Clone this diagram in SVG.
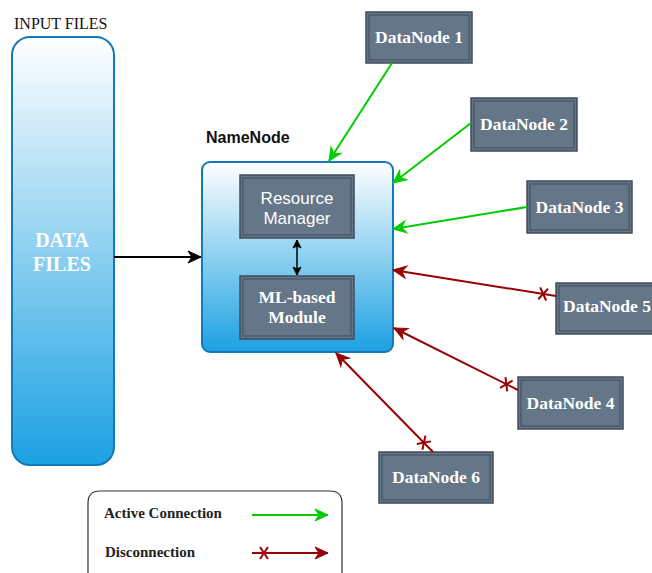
<svg xmlns="http://www.w3.org/2000/svg" width="652" height="573" viewBox="0 0 652 573">
<defs>
<linearGradient id="blueGrad" x1="0" y1="0" x2="0" y2="1">
<stop offset="0" stop-color="#ffffff"/>
<stop offset="1" stop-color="#1ba1e2"/>
</linearGradient>
<marker id="arrowGreen" markerUnits="userSpaceOnUse" markerWidth="20" markerHeight="20" refX="0" refY="0" orient="auto" overflow="visible">
<path d="M-13,-6 L0,0 L-13,6 L-9,0 z" fill="#00cc00" stroke="#00cc00" stroke-width="1"/>
</marker>
<marker id="arrowRed" markerUnits="userSpaceOnUse" markerWidth="20" markerHeight="20" refX="0" refY="0" orient="auto" overflow="visible">
<path d="M-13,-6 L0,0 L-13,6 L-9,0 z" fill="#990000" stroke="#990000" stroke-width="1"/>
</marker>
<marker id="arrowBlack" markerUnits="userSpaceOnUse" markerWidth="20" markerHeight="20" refX="0" refY="0" orient="auto" overflow="visible">
<path d="M-13,-6 L0,0 L-13,6 L-9,0 z" fill="#000000" stroke="#000000" stroke-width="1"/>
</marker>
<marker id="arrowSmall" markerUnits="userSpaceOnUse" markerWidth="20" markerHeight="20" refX="0" refY="0" orient="auto-start-reverse" overflow="visible">
<path d="M-8,-4 L0,0 L-8,4 L-6,0 z" fill="#000000" stroke="#000000" stroke-width="1"/>
</marker>
<marker id="cross" markerUnits="userSpaceOnUse" markerWidth="20" markerHeight="20" refX="0" refY="0" orient="auto" overflow="visible">
<path d="M9,-6 L17,6 M9,6 L17,-6" stroke="#990000" stroke-width="2" fill="none"/>
</marker>
</defs>
<style>
.blue{fill:url(#blueGrad);stroke:#1479b8;stroke-width:2}
.dn{fill:#647687;stroke:#3f4d5d;stroke-width:1.5}
.dnin{fill:none;stroke:#3f4d5d;stroke-width:1}
.dnt{font-family:"Liberation Serif","Times New Roman",serif;font-weight:bold;font-size:17.5px;fill:#ffffff;text-anchor:middle}
.dnl{text-anchor:start}
.sans{font-family:"Liberation Sans",Arial,sans-serif}
.serif{font-family:"Liberation Serif","Times New Roman",serif}
.green{stroke:#00cc00;stroke-width:2;fill:none;marker-end:url(#arrowGreen)}
.red{stroke:#990000;stroke-width:2;fill:none;marker-end:url(#arrowRed);marker-start:url(#cross)}
</style>

<g id="input-files">
<text x="14" y="29" class="serif" font-size="16" fill="#111111">INPUT FILES</text>
<rect x="12" y="37" width="102" height="428" rx="18" ry="18" class="blue"/>
<text x="62" y="247" class="serif" font-size="20" font-weight="bold" fill="#ffffff" text-anchor="middle">DATA</text>
<text x="62" y="271" class="serif" font-size="20" font-weight="bold" fill="#ffffff" text-anchor="middle">FILES</text>
</g>

<g id="namenode">
<text x="206" y="143" class="sans" font-size="16" font-weight="bold" fill="#111111">NameNode</text>
<rect x="202" y="162" width="191" height="190" rx="8" ry="8" class="blue"/>
</g>

<g id="resource-manager">
<rect x="240" y="175" width="114" height="63" class="dn"/>
<rect x="243" y="178" width="108" height="57" class="dnin"/>
<text x="297" y="204" class="sans" font-size="17" fill="#ffffff" text-anchor="middle">Resource</text>
<text x="297" y="224" class="sans" font-size="17" fill="#ffffff" text-anchor="middle">Manager</text>
</g>

<g id="ml-module">
<rect x="240" y="276" width="114" height="63" class="dn"/>
<rect x="243" y="279" width="108" height="57" class="dnin"/>
<text x="297" y="303" class="dnt">ML-based</text>
<text x="297" y="323" class="dnt">Module</text>
</g>

<g id="datanode1">
<rect x="366" y="12" width="106" height="51" class="dn"/>
<rect x="369" y="15" width="100" height="45" class="dnin"/>
<text x="419" y="43" class="dnt">DataNode 1</text>
</g>
<g id="datanode2">
<rect x="471" y="98" width="106" height="53" class="dn"/>
<rect x="474" y="101" width="100" height="47" class="dnin"/>
<text x="524" y="130" class="dnt">DataNode 2</text>
</g>
<g id="datanode3">
<rect x="527" y="181" width="105" height="52" class="dn"/>
<rect x="530" y="184" width="99" height="46" class="dnin"/>
<text x="579.5" y="213" class="dnt">DataNode 3</text>
</g>
<g id="datanode5">
<rect x="556" y="283" width="106" height="51" class="dn"/>
<rect x="559" y="286" width="100" height="45" class="dnin"/>
<text x="563" y="312" class="dnt dnl">DataNode 5</text>
</g>
<g id="datanode4">
<rect x="518" y="377" width="105" height="52" class="dn"/>
<rect x="521" y="380" width="99" height="46" class="dnin"/>
<text x="570.5" y="409" class="dnt">DataNode 4</text>
</g>
<g id="datanode6">
<rect x="379" y="452" width="114" height="51" class="dn"/>
<rect x="382" y="455" width="108" height="45" class="dnin"/>
<text x="436" y="483" class="dnt">DataNode 6</text>
</g>

<g id="connectors">
<line x1="114" y1="257" x2="201" y2="257" stroke="#000000" stroke-width="2" marker-end="url(#arrowBlack)"/>
<line x1="297" y1="240" x2="297" y2="275" stroke="#000000" stroke-width="1.5" marker-start="url(#arrowSmall)" marker-end="url(#arrowSmall)"/>
<line x1="392" y1="63" x2="329" y2="161" class="green"/>
<line x1="471" y1="123" x2="393" y2="183" class="green"/>
<line x1="527" y1="207" x2="393" y2="229" class="green"/>
<line x1="556" y1="296" x2="393" y2="270" class="red"/>
<line x1="518" y1="390" x2="394" y2="328" class="red"/>
<line x1="433" y1="452" x2="336" y2="353" class="red"/>
</g>

<g id="legend">
<path d="M88,573 L88,503 Q88,491 100,491 L330,491 Q342,491 342,503 L342,573" fill="#ffffff" stroke="#333333" stroke-width="1.2"/>
<text x="104" y="518" class="serif" font-size="15" font-weight="bold" fill="#222222">Active Connection</text>
<text x="105" y="557" class="serif" font-size="15" font-weight="bold" fill="#222222">Disconnection</text>
<line x1="252" y1="515" x2="328" y2="515" class="green"/>
<line x1="252" y1="553" x2="328" y2="553" stroke="#990000" stroke-width="2" marker-end="url(#arrowRed)"/>
<path d="M260,547 L268,559 M260,559 L268,547" stroke="#990000" stroke-width="2"/>
</g>
</svg>
